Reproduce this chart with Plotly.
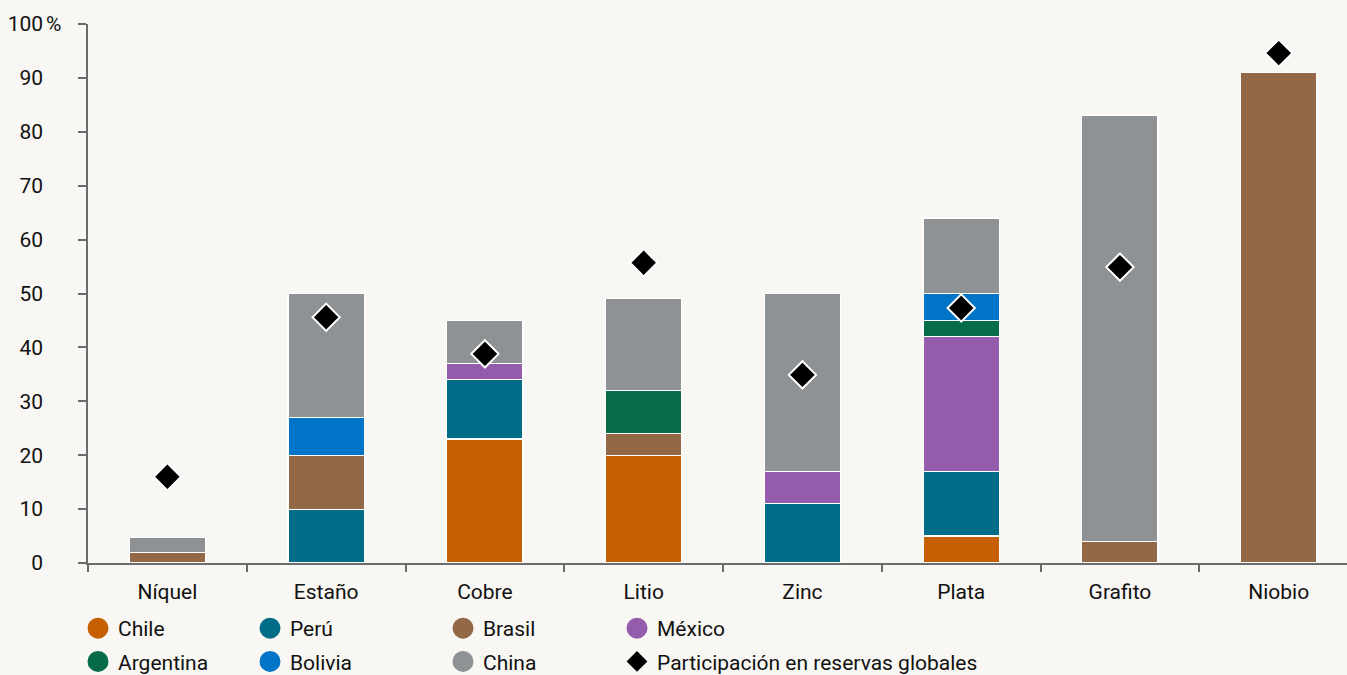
import plotly.graph_objects as go

# Minerales críticos: participación por país en la producción mundial
minerales = ["Níquel", "Estaño", "Cobre", "Litio", "Zinc", "Plata", "Grafito", "Niobio"]

chile = [0, 0, 23, 20, 0, 5, 0, 0]
peru = [0, 10, 11, 0, 11, 12, 0, 0]
brasil = [2, 10, 0, 4, 0, 0, 4, 91]
mexico = [0, 0, 3, 0, 6, 25, 0, 0]
argentina = [0, 0, 0, 8, 0, 3, 0, 0]
bolivia = [0, 7, 0, 0, 0, 5, 0, 0]
china = [2.8, 23, 8, 17, 33, 14, 79, 0]
reservas = [16, 45.6, 38.8, 55.7, 34.9, 47.3, 54.9, 94.6]

y_ticks = [0, 10, 20, 30, 40, 50, 60, 70, 80, 90, 100]
y_ticktext = ["0", "10", "20", "30", "40", "50", "60", "70", "80", "90", "100"]

FONT = "Roboto"
BG = "#F8F7F3"
FS = 21

series = [
    ("Chile", chile, "#C65F00", "legend"),
    ("Perú", peru, "#006C87", "legend2"),
    ("Brasil", brasil, "#936846", "legend3"),
    ("México", mexico, "#955BAD", "legend4"),
    ("Argentina", argentina, "#066B49", "legend"),
    ("Bolivia", bolivia, "#0075C8", "legend2"),
    ("China", china, "#8F9294", "legend3"),
]

fig = go.Figure()

for name, vals, color, _ in series:
    fig.add_trace(go.Bar(
        x=minerales,
        y=[v if v else None for v in vals],
        name=name,
        marker=dict(color=color, line=dict(color="white", width=1.2)),
        width=0.48,
        showlegend=False,
    ))

fig.add_trace(go.Scatter(
    x=minerales,
    y=reservas,
    mode="markers",
    name="Participación en reservas globales",
    marker=dict(symbol="diamond", size=21, color="black",
                line=dict(color="white", width=2)),
    showlegend=False,
))

# Legend entries: round swatches for each country, diamond for reserves
for i, (name, _, color, leg) in enumerate(series):
    fig.add_trace(go.Scatter(
        x=[None], y=[None], mode="markers", name=name,
        marker=dict(symbol="circle", size=16, color=color,
                    line=dict(color=color, width=5)),
        legend=leg, legendgroup=name, legendrank=i,
    ))
fig.add_trace(go.Scatter(
    x=[None], y=[None], mode="markers",
    name="Participación en reservas globales",
    marker=dict(symbol="diamond", size=16, color="black"),
    legend="legend4", legendgroup="reservas", legendrank=10,
))

leg_common = dict(
    orientation="v", xref="container", yref="container",
    yanchor="top", xanchor="left", bgcolor="rgba(0,0,0,0)",
    font=dict(family=FONT, size=FS, color="#111"),
    tracegroupgap=3, itemwidth=30,
)
leg_y = 1 - 608 / 675
fig.update_layout(
    legend=dict(x=78 / 1347, y=leg_y, **leg_common),
    legend2=dict(x=250 / 1347, y=leg_y, **leg_common),
    legend3=dict(x=443 / 1347, y=leg_y, **leg_common),
    legend4=dict(x=617 / 1347, y=leg_y, **leg_common),
)

fig.update_layout(
    barmode="stack",
    width=1347, height=675,
    margin=dict(l=88, r=0, t=24, b=112, autoexpand=False),
    paper_bgcolor=BG, plot_bgcolor=BG,
    font=dict(family=FONT, size=FS, color="#111"),
    xaxis=dict(
        range=[-0.5, 7.43],
        showline=True, linecolor="#6b6b6b", linewidth=1.5,
        ticks="outside", tickson="boundaries", ticklen=7,
        tickcolor="#6b6b6b", tickwidth=1.5,
        showgrid=False, zeroline=False, tickangle=0,
        tickfont=dict(family=FONT, size=FS, color="#111"),
        ticklabelstandoff=9,
    ),
    yaxis=dict(
        range=[0, 100],
        tickvals=y_ticks, ticktext=y_ticktext,
        showline=True, linecolor="#6b6b6b", linewidth=1.5,
        ticks="outside", ticklen=8, tickcolor="#6b6b6b", tickwidth=1.5,
        showgrid=False, zeroline=False,
        tickfont=dict(family=FONT, size=FS, color="#111"),
        ticklabelstandoff=31,
    ),
    annotations=[dict(
        text="%", xref="paper", yref="y", x=0, y=100,
        xanchor="left", yanchor="middle", xshift=-44, showarrow=False,
        font=dict(family=FONT, size=FS, color="#111"),
    )],
)

fig.write_html("out.html")
